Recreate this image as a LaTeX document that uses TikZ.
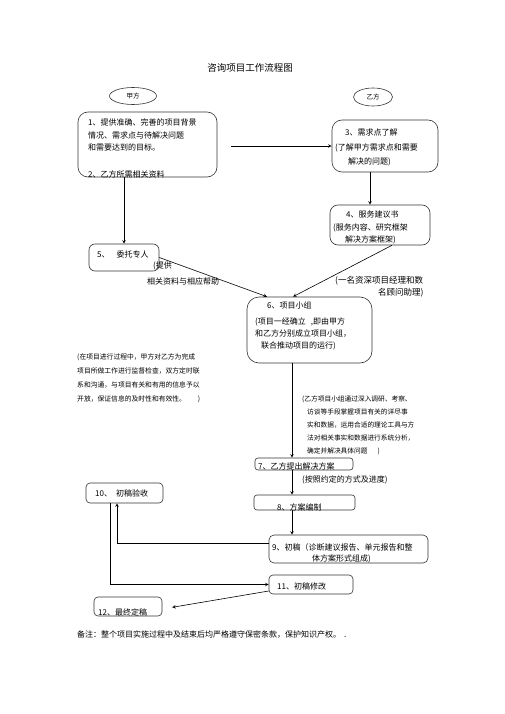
\documentclass[tikz,border=0pt]{standalone}
\usepackage{fontspec}
\setmainfont{Noto Sans CJK SC}
\usetikzlibrary{shapes.geometric, arrows, calc}

\tikzstyle{party} = [ellipse, draw=black!80, line width=0.6pt, inner sep=0pt, font=\fontsize{6.5}{8}\selectfont]
\tikzstyle{stepbox} = [rectangle, rounded corners=4pt, draw=black!80, line width=0.6pt]
\tikzstyle{boxtext} = [anchor=north west, align=left, inner sep=0pt, font=\fontsize{8}{12.5}\selectfont]
\tikzstyle{note} = [anchor=north west, align=left, inner sep=0pt, font=\fontsize{6.7}{13}\selectfont]
\tikzstyle{arrow} = [line width=0.6pt,->,>=stealth]

\begin{document}
\begin{tikzpicture}[x=1pt, y=-1pt]
    \useasboundingbox (0,0) rectangle (505,714);

    \node (title) [inner sep=0pt, font=\fontsize{9.5}{11}\selectfont] at (250,68) {咨询项目工作流程图};
    \node (jia) [party, minimum width=47pt, minimum height=17pt] at (133,96) {甲方};
    \node (yi) [party, minimum width=39pt, minimum height=18pt] at (373,97) {乙方};

    % boxes
    \node (need) [stepbox, rounded corners=10pt, minimum width=139pt, minimum height=65pt] at (147.5,144.5) {};
    \node (demand) [stepbox, rounded corners=10pt, minimum width=106pt, minimum height=52pt] at (385,146) {};
    \node (proposal) [stepbox, rounded corners=8pt, minimum width=100pt, minimum height=40pt] at (380,225) {};
    \node (expert) [stepbox, rounded corners=6pt, minimum width=70pt, minimum height=27pt] at (124,257.5) {};
    \node (team) [stepbox, rounded corners=12pt, minimum width=125pt, minimum height=66pt] at (309.5,330) {};
    \node (solution) [stepbox, rounded corners=3pt, minimum width=98pt, minimum height=12pt] at (304,464) {};
    \node (compile) [stepbox, rounded corners=3pt, minimum width=101pt, minimum height=15pt] at (304.5,502.5) {};
    \node (draft) [stepbox, rounded corners=5pt, minimum width=159pt, minimum height=28pt] at (348.5,549) {};
    \node (check) [stepbox, minimum width=77pt, minimum height=20pt] at (124.5,493) {};
    \node (revise) [stepbox, minimum width=84pt, minimum height=19pt] at (311,584.5) {};
    \node (final) [stepbox, minimum width=68pt, minimum height=19pt] at (128,606.5) {};

    % box texts
    \node (need_txt) [boxtext] at (88,119) {1、提供准确、完善的项目背景\\情况、需求点与待解决问题\\和需要达到的目标。\\[14.5pt]2、乙方所需相关资料};
    \node (demand_txt) [boxtext, font=\fontsize{8}{14.5}\selectfont] at (335,129) {\hspace*{10pt}3、需求点了解\\(了解甲方需求点和需要\\\hspace*{13pt}解决的问题)};
    \node (proposal_txt) [boxtext] at (333,211) {\hspace*{13pt}4、服务建议书\\(服务内容、研究框架\\\hspace*{12pt}解决方案框架)};
    \node (expert_txt) [boxtext, anchor=west] at (97,254) {5、\hspace{7pt}委托专人};
    \node (team_txt) [boxtext, font=\fontsize{8}{11.7}\selectfont] at (255,302) {\hspace*{12pt}6、项目小组\\[4pt](项目一经确立\hspace{5pt},即由甲方\\和乙方分别成立项目小组，\\\hspace*{6pt}联合推动项目的运行)};
    \node (solution_txt) [boxtext, anchor=west] at (258,466) {7、乙方提出解决方案};
    \node (compile_txt) [boxtext, anchor=west] at (277,507) {8、方案编制};
    \node (draft_txt) [boxtext, font=\fontsize{8}{11}\selectfont] at (272,543) {9、初稿（诊断建议报告、单元报告和整\\\hspace*{40pt}体方案形式组成)};
    \node (check_txt) [boxtext, anchor=west] at (95,493) {10、\hspace{4pt}初稿验收};
    \node (revise_txt) [boxtext, anchor=west] at (277,586) {11、初稿修改};
    \node (final_txt) [boxtext, anchor=west] at (98,612) {12、最终定稿};

    % side notes
    \node (help_txt) [boxtext, font=\fontsize{8}{16}\selectfont] at (147,262) {\hspace*{6pt}(提供\\相关资料与相应帮助};
    \node (staff_txt) [boxtext, font=\fontsize{8.5}{12}\selectfont] at (335,276) {(一名资深项目经理和数\\\hspace*{43pt}名顾问助理)};
    \node (supervise_txt) [note, font=\fontsize{6.8}{14}\selectfont] at (77,354) {(在项目进行过程中，甲方对乙方为完成\\项目所做工作进行监督检查，双方定时联\\系和沟通，与项目有关和有用的信息予以\\开放，保证信息的及时性和有效性。\hspace{12pt})};
    \node (research_txt) [note] at (302,396) {(乙方项目小组通过深入调研、考察、\\\hspace*{5pt}访谈等手段掌握项目有关的详尽事\\\hspace*{5pt}实和数据，运用合适的理论工具与方\\\hspace*{5pt}法对相关事实和数据进行系统分析，\\\hspace*{5pt}确定并解决具体问题\hspace{10pt})};
    \node (schedule_txt) [boxtext, anchor=west] at (302,480) {(按照约定的方式及进度)};
    \node (remark) [boxtext, anchor=west] at (77,635) {备注：整个项目实施过程中及结束后均严格遵守保密条款，保护知识产权。\hspace{3pt}.};

    \draw [arrow, shorten <=14pt] (need.east |- demand.west) -- (demand.west);
    \draw [arrow] ([xshift=-15pt]demand.south) -- ([xshift=-15pt]demand.south |- proposal.north);
    \draw [arrow] ([xshift=12pt]proposal.south) -- ([xshift=-16.5pt]team.north);
    \draw [arrow] (expert.north |- need.south) -- (expert.north);
    \draw [arrow] (expert.east) -- ([xshift=-42.5pt]team.north);
    \draw [arrow] ([xshift=-17.5pt]team.south) -- ([xshift=-17.5pt]team.south |- solution.north);
    \draw [arrow] ([xshift=-12pt]solution.south) -- ([xshift=-12pt]solution.south |- compile.north);
    \draw [arrow] ([xshift=-12.5pt]compile.south) -- ([xshift=-12.5pt]compile.south |- draft.north);
    \draw [arrow] ([yshift=6pt]draft.west) -| ([xshift=-7.5pt]check.south);
    \draw [arrow] ([xshift=-14.5pt]check.south) |- (revise.west);
    \draw [arrow, shorten >=10pt] ([yshift=-6.5pt]revise.west) -- ([yshift=-2.5pt]final.east);

\end{tikzpicture}
\end{document}
